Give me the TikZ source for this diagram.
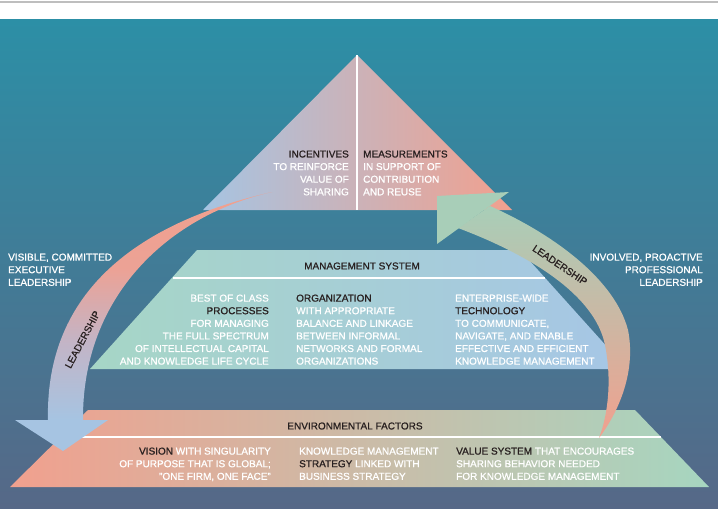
\documentclass[tikz,border=0pt]{standalone}
\usepackage{fontspec}
\setmainfont[FakeBold=0.9]{Liberation Sans}
\definecolor{bgtop}{RGB}{44,143,166}
\definecolor{bgbot}{RGB}{86,104,135}
\definecolor{salm}{RGB}{241,160,142}
\definecolor{lblue}{RGB}{166,196,226}
\definecolor{mint}{RGB}{166,214,192}
\definecolor{beige}{RGB}{212,186,164}
\definecolor{mintb}{RGB}{166,214,198}
\definecolor{lblueb}{RGB}{166,198,230}
\definecolor{agreen}{RGB}{168,206,184}
\definecolor{dk}{RGB}{40,32,32}
\definecolor{mauve}{RGB}{214,170,180}
\definecolor{rulegray}{RGB}{190,190,190}
\pgfdeclareverticalshading{lbandshade}{100bp}{color(0bp)=(lblue); color(25bp)=(lblue); color(42bp)=(mauve!60!lblue); color(58bp)=(salm!80!mauve); color(75bp)=(salm); color(100bp)=(salm)}
\begin{document}
\begin{tikzpicture}[x=1pt,y=-1pt,
  txt/.style={inner sep=0pt, font=\fontsize{10}{12.6}\selectfont, text=white},
  lab/.style={inner sep=0pt, font=\fontsize{10}{12}\selectfont, text=dk},
  sep/.style={white, line width=1.6pt}]
\useasboundingbox (0,0) rectangle (718,509);
\fill[white] (0,0) rectangle (718,509);
\draw[rulegray, line width=1.5pt] (0,2) -- (718,2);
\shade[top color=bgtop, bottom color=bgbot] (0,19) rectangle (718,509);

% bottom trapezoid
\shade[left color=salm, middle color=beige, right color=mint] (88,410) -- (635,410) -- (709,487) -- (10,487) -- cycle;
\draw[sep] (61,437) -- (661,437);

% middle trapezoid
\shade[left color=mintb, right color=lblueb] (197,250) -- (520,250) -- (627,369) -- (90,369) -- cycle;
\draw[sep] (173,278) -- (545,278);

% top triangle
\shade[left color=lblue, right color=salm] (357,55) -- (512,210) -- (203,210) -- cycle;
\draw[sep] (357,55) -- (357,210);

% left leadership arrow
\shade[shading=lbandshade]
  (272,192) .. controls (140,222) and (45,290) .. (48,420) -- (83,420)
  .. controls (82,295) and (170,215) .. (272,192) -- cycle;
\fill[lblue] (15,420) -- (108,420) -- (63,451) -- cycle;

% right leadership arrow
\shade[top color=agreen, bottom color=salm]
  (490,206) .. controls (555,235) and (615,280) .. (628,330)
  .. controls (636,370) and (620,410) .. (599,438)
  .. controls (608,415) and (612,380) .. (605,345)
  .. controls (595,295) and (530,255) .. (458,228) -- cycle;
\fill[agreen] (437,196) -- (509,192) -- (437,244) -- cycle;

% labels on arrows
\node[lab, rotate=62] (lbl) at (82.5,339.5) {LEADERSHIP};
\node[lab, rotate=-34] (lbr) at (560,265) {LEADERSHIP};

% top triangle texts
\node[txt, anchor=north east, align=right] (inc) at (349,150.3)
  {\textcolor{dk}{INCENTIVES}\\TO REINFORCE\\VALUE OF\\SHARING};
\node[txt, anchor=north west, align=left] (mea) at (363,150.3)
  {\textcolor{dk}{MEASUREMENTS}\\IN SUPPORT OF\\CONTRIBUTION\\AND REUSE};

% side texts
\node[txt, anchor=north west, align=left] (vis) at (8,253.4)
  {VISIBLE, COMMITTED\\EXECUTIVE\\LEADERSHIP};
\node[txt, anchor=north east, align=right] (inv) at (703,253.4)
  {INVOLVED, PROACTIVE\\PROFESSIONAL\\LEADERSHIP};

% management system
\node[lab] (ms) at (362,266) {MANAGEMENT SYSTEM};
\node[txt, anchor=north east, align=right] (proc) at (269,294.4)
  {BEST OF CLASS\\\textcolor{dk}{PROCESSES}\\FOR MANAGING\\THE FULL SPECTRUM\\OF INTELLECTUAL CAPITAL\\AND KNOWLEDGE LIFE CYCLE};
\node[txt, anchor=north west, align=left] (org) at (296,294.4)
  {\textcolor{dk}{ORGANIZATION}\\WITH APPROPRIATE\\BALANCE AND LINKAGE\\BETWEEN INFORMAL\\NETWORKS AND FORMAL\\ORGANIZATIONS};
\node[txt, anchor=north west, align=left] (tech) at (455,294.4)
  {ENTERPRISE-WIDE\\\textcolor{dk}{TECHNOLOGY}\\TO COMMUNICATE,\\NAVIGATE, AND ENABLE\\EFFECTIVE AND EFFICIENT\\KNOWLEDGE MANAGEMENT};

% environmental factors
\node[lab] (env) at (355,426) {ENVIRONMENTAL FACTORS};
\node[txt, anchor=north east, align=right] (vision) at (271,447.4)
  {\textcolor{dk}{VISION} WITH SINGULARITY\\OF PURPOSE THAT IS GLOBAL;\\"ONE FIRM, ONE FACE"};
\node[txt, anchor=north west, align=left] (strat) at (299,447.4)
  {KNOWLEDGE MANAGEMENT\\\textcolor{dk}{STRATEGY} LINKED WITH\\BUSINESS STRATEGY};
\node[txt, anchor=north west, align=left] (val) at (456,447.4)
  {\textcolor{dk}{VALUE SYSTEM} THAT ENCOURAGES\\SHARING BEHAVIOR NEEDED\\FOR KNOWLEDGE MANAGEMENT};
\end{tikzpicture}
\end{document}
